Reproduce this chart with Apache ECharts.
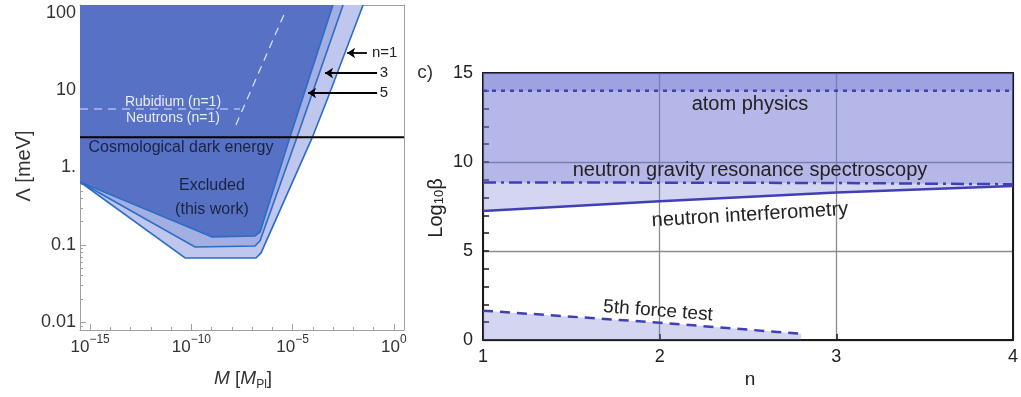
<!DOCTYPE html>
<html><head><meta charset="utf-8">
<script src="https://cdn.jsdelivr.net/npm/echarts@6/dist/echarts.min.js"></script>
<style>html,body{margin:0;padding:0;background:#fff}#c{width:1021px;height:397px}</style>
</head><body><div id="c"></div>
<script>
const FONT = '"Liberation Sans", Arial, sans-serif';
// ---------- Left panel (log10 M [M_Pl], log10 Lambda [meV]) ----------
const xMajorDecades = [-15, -10, -5, 0];
const xMinorDecades = [-15,-14,-13,-12,-11,-10,-9,-8,-7,-6,-5,-4,-3,-2,-1,0];
const yMajorDecades = [-2, -1, 0, 1, 2];
const yTickText = ['0.01', '0.1', '1.', '10', '100'];
// excluded regions (polygon vertices, log10 values)
const outerLogM = [-15.5, -1.52, -3.30, -4.04, -6.56, -6.81, -10.31, -15.5];
const outerLogL = [2.1, 2.1, 0.873, 0.382, -1.104, -1.169, -1.169, -0.187];
const middleLogM = [-15.5, -2.51, -4.78, -6.61, -6.86, -9.82, -15.5];
const middleLogL = [2.1, 2.1, 0.395, -0.949, -1.014, -1.027, -0.187];
const innerLogM = [-15.5, -3.01, -5.13, -6.61, -6.86, -8.98, -15.5];
const innerLogL = [2.1, 2.1, 0.395, -0.833, -0.885, -0.897, -0.187];
const darkEnergyLogL = 0.39;
const rubidiumLogM = [-15.5, -7.6];
const rubidiumLogL = [0.756, 0.756];
const neutronLogM = [-7.8, -5.33];
const neutronLogL = [0.55, 2.035];
const arrowFromM = [-1.33, -0.83, -0.83];
const arrowToM = [-2.31, -3.40, -4.24];
const arrowLogL = [1.48, 1.22, 0.963];
// ---------- Right panel (n, log10 beta) ----------
const nValues = [1, 2, 3, 4];
const interferometry = [7.25, 7.8, 8.28, 8.65];
const gravityResonance = [8.85, 8.84, 8.82, 8.75];
const atomPhysics = [14, 14, 14, 14];
const fifthForceN = [1, 2, 2.8];
const fifthForce = [1.65, 0.97, 0.35];
const betaTicks = [0,1,2,3,4,5,6,7,8,9,10,11,12,13,14,15];

const yMinor = [];
for (let d = -3; d <= 2; d++) for (let k = 2; k <= 9; k++) {
  const v = d + Math.log10(k);
  if (v > -2.1 && v < 2.1) yMinor.push(v);
}
const pairs = (xs, ys) => xs.map((x, i) => [x, ys[i]]);
const LAYER = 'rgba(110,115,210,0.30)';
const LINEC = '#4040b4';
const BOUND = '#2b6cc6';

function regionSeries(xs, ys, fill) {
  return {
    type: 'custom', xAxisIndex: 0, yAxisIndex: 0, clip: true, silent: true,
    data: [[0]],
    renderItem: function (params, api) {
      const pts = xs.map((x, i) => api.coord([x, ys[i]]));
      return { type: 'group', children: [
        { type: 'polygon', shape: { points: pts }, style: { fill: fill } },
        { type: 'polyline', shape: { points: pts.slice(1) }, style: { fill: null, stroke: BOUND, lineWidth: 1.6 } }
      ]};
    }
  };
}
function txt(x, y, text, font, fill, align, extra) {
  return Object.assign({ type: 'text', x: x, y: y, z: 100, zlevel: 0,
    style: Object.assign({ text: text, font: font + ' ' + FONT, fill: fill, align: align || 'center', verticalAlign: 'middle' }, (extra && extra.style) || {}) },
    extra && extra.rotation !== undefined ? { rotation: extra.rotation } : {});
}

const chart = echarts.init(document.getElementById('c'), null, { renderer: 'canvas' });
const expText = v => (v === 0 ? '0' : '\u2212' + Math.abs(v));
const option = {
  animation: false,
  backgroundColor: '#fff',
  textStyle: { fontFamily: FONT },
  grid: [
    { left: 80, top: 5, width: 324, height: 325 },
    { left: 483, top: 73, width: 533, height: 267 }
  ],
  xAxis: [
    { gridIndex: 0, type: 'value', min: -15.5, max: 0.5, position: 'bottom',
      axisLine: { show: true, onZero: false, lineStyle: { color: '#a0a0a0', width: 1 } },
      axisTick: { show: true, inside: true, length: 6, customValues: xMajorDecades, lineStyle: { color: '#a0a0a0' } },
      axisLabel: { customValues: xMajorDecades, margin: 4,
        formatter: v => '{b|10}{s|' + expText(v) + '}',
        rich: { b: { fontSize: 17, lineHeight: 26, color: '#333', fontFamily: FONT },
                s: { fontSize: 12, lineHeight: 13, verticalAlign: 'top', color: '#333', fontFamily: FONT } } },
      splitLine: { show: false } },
    { gridIndex: 0, type: 'value', min: -15.5, max: 0.5, position: 'bottom',
      axisLine: { show: false, onZero: false }, axisLabel: { show: false },
      axisTick: { show: true, inside: true, length: 3, customValues: xMinorDecades, lineStyle: { color: '#a0a0a0' } },
      splitLine: { show: false } },
    { gridIndex: 0, type: 'value', min: -15.5, max: 0.5, position: 'top',
      axisLine: { show: true, onZero: false, lineStyle: { color: '#a0a0a0' } }, axisLabel: { show: false },
      axisTick: { show: false }, splitLine: { show: false } },
    { gridIndex: 1, type: 'value', min: 1, max: 4, interval: 1, position: 'bottom',
      axisLine: { show: true, onZero: false, lineStyle: { color: '#1a1a1a', width: 2 } },
      axisTick: { show: true, inside: true, length: 6, lineStyle: { color: '#1a1a1a', width: 1.5 } },
      axisLabel: { margin: 8, fontSize: 18, color: '#222', fontFamily: FONT },
      splitLine: { show: true, lineStyle: { color: '#8c8c8c', width: 1.3 } } },
    { gridIndex: 1, type: 'value', min: 1, max: 4, position: 'top',
      axisLine: { show: true, onZero: false, lineStyle: { color: '#1a1a1a', width: 2 } }, axisLabel: { show: false },
      axisTick: { show: false }, splitLine: { show: false } }
  ],
  yAxis: [
    { gridIndex: 0, type: 'value', min: -2.1, max: 2.1, position: 'left',
      axisLine: { show: true, onZero: false, lineStyle: { color: '#a0a0a0', width: 1 } },
      axisTick: { show: true, inside: true, length: 6, customValues: yMajorDecades, lineStyle: { color: '#a0a0a0' } },
      axisLabel: { customValues: yMajorDecades, margin: 4, fontSize: 18, color: '#333', fontFamily: FONT,
        formatter: v => yTickText[yMajorDecades.indexOf(Math.round(v))] },
      splitLine: { show: false } },
    { gridIndex: 0, type: 'value', min: -2.1, max: 2.1, position: 'left',
      axisLine: { show: false, onZero: false }, axisLabel: { show: false },
      axisTick: { show: true, inside: true, length: 3, customValues: yMinor, lineStyle: { color: '#a0a0a0' } },
      splitLine: { show: false } },
    { gridIndex: 0, type: 'value', min: -2.1, max: 2.1, position: 'right',
      axisLine: { show: true, onZero: false, lineStyle: { color: '#a0a0a0' } }, axisLabel: { show: false },
      axisTick: { show: false }, splitLine: { show: false } },
    { gridIndex: 1, type: 'value', min: 0, max: 15, interval: 5, position: 'left',
      axisLine: { show: true, onZero: false, lineStyle: { color: '#1a1a1a', width: 2 } },
      axisTick: { show: false },
      axisLabel: { margin: 10, fontSize: 18, color: '#222', fontFamily: FONT },
      splitLine: { show: true, lineStyle: { color: '#8c8c8c', width: 1.3 } } },
    { gridIndex: 1, type: 'value', min: 0, max: 15, position: 'right',
      axisLine: { show: true, onZero: false, lineStyle: { color: '#1a1a1a', width: 2 } }, axisLabel: { show: false },
      axisTick: { show: false }, splitLine: { show: false } },
    { gridIndex: 1, type: 'value', min: 0, max: 15, position: 'left',
      axisLine: { show: false, onZero: false }, axisLabel: { show: false },
      axisTick: { show: true, inside: true, length: 6, customValues: betaTicks, lineStyle: { color: '#1a1a1a', width: 1.5 } },
      splitLine: { show: false } }
  ],
  series: [
    regionSeries(outerLogM, outerLogL, '#c0c7ee'),
    regionSeries(middleLogM, middleLogL, '#a3afe3'),
    regionSeries(innerLogM, innerLogL, '#5772c4'),
    { type: 'line', xAxisIndex: 0, yAxisIndex: 0, symbol: 'none', silent: true,
      data: [[-15.5, darkEnergyLogL], [0.5, darkEnergyLogL]],
      lineStyle: { color: '#000', width: 2 } },
    { type: 'line', xAxisIndex: 0, yAxisIndex: 0, symbol: 'none', silent: true,
      data: pairs(rubidiumLogM, rubidiumLogL),
      lineStyle: { color: 'rgba(235,240,255,0.9)', width: 1.2, type: [8, 6] } },
    { type: 'line', xAxisIndex: 0, yAxisIndex: 0, symbol: 'none', silent: true,
      data: pairs(neutronLogM, neutronLogL),
      lineStyle: { color: 'rgba(235,240,255,0.9)', width: 1.2, type: [8, 6] } },
    { type: 'lines', coordinateSystem: 'cartesian2d', xAxisIndex: 0, yAxisIndex: 0, silent: true,
      symbol: ['none', 'arrow'], symbolSize: 8,
      lineStyle: { color: '#000', width: 1.8, opacity: 1 },
      data: arrowFromM.map((m, i) => ({ coords: [[m, arrowLogL[i]], [arrowToM[i], arrowLogL[i]]] })) },
    // right panel
    { type: 'line', xAxisIndex: 3, yAxisIndex: 3, symbol: 'none', silent: true,
      data: pairs(nValues, interferometry),
      lineStyle: { color: LINEC, width: 2.5 },
      areaStyle: { color: LAYER, origin: 'end', opacity: 1 } },
    { type: 'line', xAxisIndex: 3, yAxisIndex: 3, symbol: 'none', silent: true,
      data: pairs(nValues, gravityResonance),
      lineStyle: { color: LINEC, width: 2.5, type: [13, 5, 3, 5] },
      areaStyle: { color: LAYER, origin: 'end', opacity: 1 } },
    { type: 'line', xAxisIndex: 3, yAxisIndex: 3, symbol: 'none', silent: true,
      data: pairs(nValues, atomPhysics),
      lineStyle: { color: LINEC, width: 2.5, type: [4, 5] },
      areaStyle: { color: LAYER, origin: 'end', opacity: 1 } },
    { type: 'line', xAxisIndex: 3, yAxisIndex: 3, symbol: 'none', silent: true,
      data: pairs(fifthForceN, fifthForce),
      lineStyle: { color: LINEC, width: 2.5, type: [10, 7] },
      areaStyle: { color: LAYER, origin: 'start', opacity: 1 } }
  ],
  graphic: { elements: [
    txt(173, 102, 'Rubidium (n=1)', '14px', '#e6ebfa'),
    txt(173, 118, 'Neutrons (n=1)', '14px', '#e6ebfa'),
    txt(181, 148, 'Cosmological dark energy', '16px', '#1b2340'),
    txt(212, 186, 'Excluded', '16px', '#1b2340'),
    txt(212, 210, '(this work)', '16px', '#1b2340'),
    txt(372, 53, 'n=1', '15px', '#222', 'left'),
    txt(384, 73, '3', '15px', '#222'),
    txt(384, 93, '5', '15px', '#222'),
    txt(24, 166, '\u039b [meV]', '20px', '#333', 'center', { rotation: Math.PI / 2 }),
    txt(243, 379, '{i|M} [{i|M}{s|Pl}]', '19px', '#333', 'center', { style: {
        rich: { i: { fontStyle: 'italic', fontSize: 19, lineHeight: 24, fontFamily: FONT, fill: '#333' },
                s: { fontSize: 12, lineHeight: 12, verticalAlign: 'bottom', fontFamily: FONT, fill: '#333' } } } }),
    txt(433, 73, 'c)', '19px', '#333', 'right'),
    txt(436, 208, 'Log{s|10}\u03b2', '20px', '#222', 'center', { rotation: Math.PI / 2, style: {
        rich: { s: { fontSize: 13, lineHeight: 12, verticalAlign: 'bottom', fontFamily: FONT, fill: '#222' } } } }),
    txt(750, 380, 'n', '19px', '#222'),
    txt(750, 104, 'atom physics', '20px', '#222'),
    txt(750, 170, 'neutron gravity resonance spectroscopy', '20px', '#222'),
    txt(750, 215, 'neutron interferometry', '20px', '#222', 'center', { rotation: 0.059 }),
    txt(658, 311, '5th force test', '19px', '#222', 'center', { rotation: -0.075 })
  ] }
};
chart.setOption(option);
</script>
</body></html>
